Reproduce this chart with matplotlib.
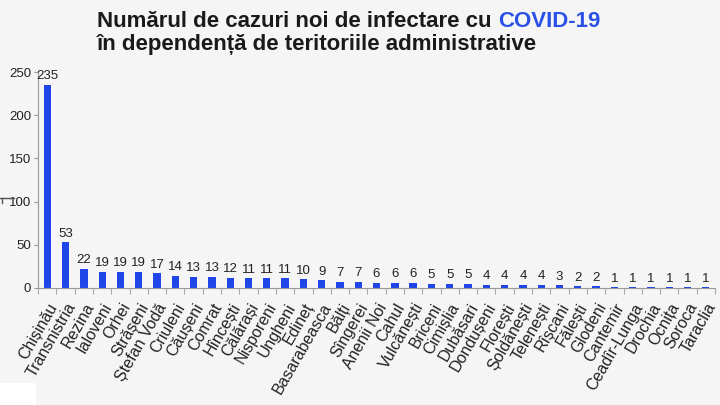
import matplotlib.pyplot as plt
import numpy as np

regions = ["Chișinău", "Transnistria", "Rezina", "Ialoveni", "Orhei", "Strășeni",
           "Ștefan Vodă", "Criuleni", "Căușeni", "Comrat", "Hîncești", "Călărași",
           "Nisporeni", "Ungheni", "Edineț", "Basarabeasca", "Bălți", "Sîngerei",
           "Anenii Noi", "Cahul", "Vulcănești", "Briceni", "Cimișlia", "Dubăsari",
           "Dondușeni", "Florești", "Șoldănești", "Telenești", "Rîșcani", "Fălești",
           "Glodeni", "Cantemir", "Ceadîr-Lunga", "Drochia", "Ocnița", "Soroca", "Taraclia"]
cases = [235, 53, 22, 19, 19, 19, 17, 14, 13, 13, 12, 11, 11, 11, 10, 9, 7, 7,
         6, 6, 6, 5, 5, 5, 4, 4, 4, 4, 3, 2, 2, 1, 1, 1, 1, 1, 1]
y_ticks = [0, 50, 100, 150, 200, 250]

plt.rcParams['font.family'] = ['Liberation Sans', 'DejaVu Sans']

bg = "#f5f5f5"
bar_color = "#1f45e8"

fig = plt.figure(figsize=(7.2, 4.05), dpi=100, facecolor=bg)
ax = fig.add_axes([0.053, 0.289, 0.940, 0.533], facecolor=bg)

x = np.arange(len(regions))
ax.bar(x, cases, width=0.4, color=bar_color)
for xi, v in zip(x, cases):
    ax.text(xi, v + 3, str(v), ha="center", va="bottom", fontsize=9.5, color="#222222")

ax.set_xlim(-0.5, len(regions) - 0.5)
ax.set_ylim(0, 250)
ax.set_yticks(y_ticks)
ax.tick_params(axis="y", labelsize=9.5, length=3, color="#999999", labelcolor="#222222", pad=2)

# ticks between categories, labels at bar centers
ax.set_xticks(np.arange(len(regions) + 1) - 0.5)
ax.set_xticklabels([])
ax.set_xticks(x, minor=True)
ax.set_xticklabels(regions, minor=True, rotation=60, ha="right", va="top",
                   rotation_mode="anchor", fontsize=11.5, color="#222222")
ax.tick_params(axis="x", which="major", length=4, color="#aaaaaa")
ax.tick_params(axis="x", which="minor", length=0, pad=9)

for side in ["top", "right"]:
    ax.spines[side].set_visible(False)
ax.spines["left"].set_color("#999999")
ax.spines["bottom"].set_color("#999999")

title_font = dict(fontsize=16, fontweight="bold", family=["Liberation Sans", "DejaVu Sans"])
t1 = fig.text(0.135, 0.948, "Numărul de cazuri noi de infectare cu ", color="#1a1a1a",
              va="center", ha="left", **title_font)
fig.canvas.draw()
bb = t1.get_window_extent()
x_end = fig.transFigure.inverted().transform((bb.x1, bb.y0))[0]
fig.text(x_end, 0.948, "COVID-19", color="#2a50e6", va="center", ha="left", **title_font)
fig.text(0.135, 0.889, "în dependență de teritoriile administrative", color="#1a1a1a",
         va="center", ha="left", **title_font)

# small mark at left edge and white patch at bottom-left corner
fig.add_artist(plt.Line2D([0.0, 0.02], [0.51, 0.51], color="#555555", lw=1))
fig.add_artist(plt.Line2D([0.003, 0.003], [0.50, 0.51], color="#555555", lw=1))
fig.add_artist(plt.Rectangle((0, 0), 0.05, 0.054, transform=fig.transFigure,
                             facecolor="white", edgecolor="none"))

fig.savefig("out.png", dpi=100, facecolor=bg)
